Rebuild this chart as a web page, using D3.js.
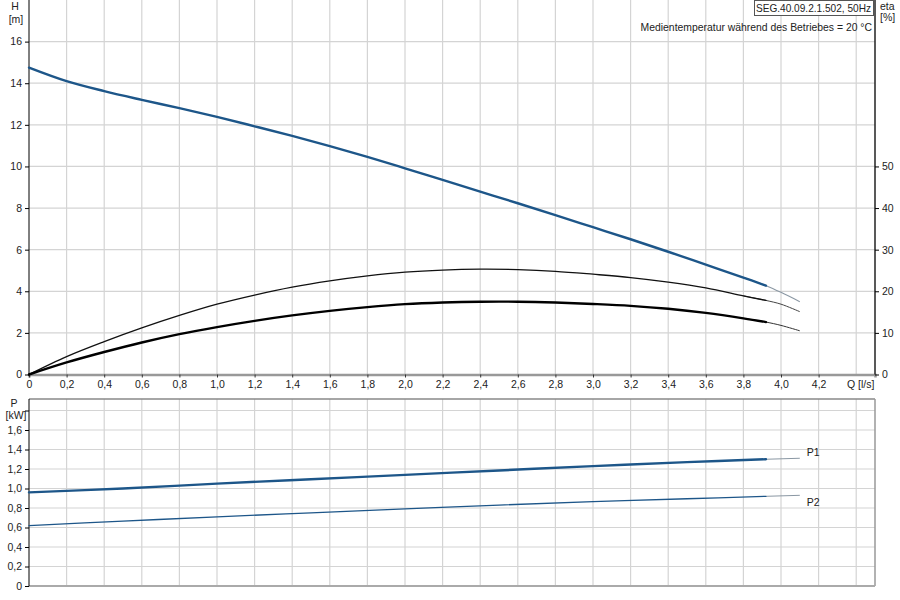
<!DOCTYPE html>
<html>
<head>
<meta charset="utf-8">
<script src="https://cdn.jsdelivr.net/npm/d3@7"></script>
<style>
  body { margin: 0; background: #fff; }
  svg text { font-family: "Liberation Sans", Arial, sans-serif; fill: #222; }
</style>
</head>
<body>
<div id="chart"></div>
<script>
// Pump curve data
const qPts = [0, 0.2, 0.4, 0.6, 0.8, 1.0, 1.2, 1.4, 1.6, 1.8, 2.0, 2.2, 2.4, 2.6, 2.8, 3.0, 3.2, 3.4, 3.6, 3.8, 3.92, 4.0, 4.1];
const headM = [14.75, 14.1, 13.62, 13.2, 12.8, 12.38, 11.93, 11.47, 10.98, 10.46, 9.91, 9.35, 8.79, 8.23, 7.66, 7.08, 6.5, 5.9, 5.28, 4.66, 4.27, 3.95, 3.5];
const etaPump = [0, 4.3, 7.9, 11.2, 14.2, 16.9, 19.1, 21.0, 22.5, 23.7, 24.6, 25.1, 25.3, 25.2, 24.8, 24.1, 23.3, 22.2, 20.8, 18.9, 17.8, 16.9, 15.1];
const etaTotal = [0, 2.9, 5.4, 7.7, 9.7, 11.4, 12.9, 14.2, 15.3, 16.2, 16.9, 17.3, 17.5, 17.5, 17.3, 16.95, 16.5, 15.8, 14.8, 13.5, 12.6, 11.8, 10.5];
const qPower = [0, 0.5, 1.0, 1.5, 2.0, 2.5, 3.0, 3.5, 3.92, 4.1];
const powerP1 = [0.96, 1.0, 1.05, 1.095, 1.14, 1.185, 1.23, 1.27, 1.30, 1.31];
const powerP2 = [0.62, 0.665, 0.71, 0.75, 0.79, 0.83, 0.865, 0.895, 0.92, 0.93];
const qDuty = 3.92; // thick part ends here, thin continuation after

const qTicks = d3.range(0, 4.21, 0.2);
const hTicks = d3.range(0, 16.1, 2);
const etaTicks = [0, 10, 20, 30, 40, 50];
const pTicks = d3.range(0, 1.81, 0.2);

const fmt = v => d3.format(".1f")(v).replace(".", ",");
const W = 900, H = 600;
const svg = d3.select("#chart").append("svg").attr("width", W).attr("height", H);

const x = d3.scaleLinear().domain([0, 4.5]).range([29, 875]);
const yH = d3.scaleLinear().domain([0, 18]).range([374.5, 0]);
const yEta = d3.scaleLinear().domain([0, 90]).range([374.5, 0]);
const yP = d3.scaleLinear().domain([0, 1.8]).range([586, 410.5]);

const gridColor = "#d4d4d4";
const topTop = 0, topBottom = yH(0);
const botTop = 399, botBottom = yP(0);

// grid lines
function grid(y0, y1, yScale, yVals) {
    const g = svg.append("g");
    d3.range(0.2, 4.41, 0.2).forEach(q => {
        g.append("line").attr("x1", x(q)).attr("x2", x(q)).attr("y1", y0).attr("y2", y1)
            .attr("stroke", gridColor).attr("stroke-width", 1.2);
    });
    yVals.forEach(v => {
        g.append("line").attr("x1", x(0)).attr("x2", x(4.5)).attr("y1", yScale(v)).attr("y2", yScale(v))
            .attr("stroke", gridColor).attr("stroke-width", 1.2);
    });
}
grid(topTop, topBottom, yH, d3.range(2, 16.1, 2));
grid(botTop, botBottom, yP, d3.range(0.2, 1.81, 0.2));

// frames of the lower chart
svg.append("line").attr("x1", x(0)).attr("x2", x(4.5)).attr("y1", botTop).attr("y2", botTop).attr("stroke", "#888").attr("stroke-width", 1.5);
svg.append("line").attr("x1", x(4.5)).attr("x2", x(4.5)).attr("y1", botTop).attr("y2", botBottom).attr("stroke", "#999").attr("stroke-width", 1.5);
svg.append("line").attr("x1", x(0)).attr("x2", x(4.5)).attr("y1", botBottom).attr("y2", botBottom).attr("stroke", "#aaa").attr("stroke-width", 2);

// top x axis
const xAxis = svg.append("g").attr("transform", `translate(0,${topBottom})`)
    .call(d3.axisBottom(x).tickValues(qTicks).tickFormat(d => d === 0 ? "0" : fmt(d)).tickSize(3).tickPadding(3));
xAxis.select(".domain").attr("stroke", "#999").attr("stroke-width", 2.5);
xAxis.selectAll(".tick line").attr("stroke", "#333");
xAxis.selectAll("text").attr("font-size", 10.5).attr("fill", "#222");

// left H axis
const hAxis = svg.append("g").attr("transform", `translate(${x(0)},0)`)
    .call(d3.axisLeft(yH).tickValues(hTicks).tickFormat(d3.format("d")).tickSize(4).tickPadding(3));
hAxis.select(".domain").attr("d", `M0,${topTop}V${topBottom}`).attr("stroke", "#000");
hAxis.selectAll("text").attr("font-size", 10.5).attr("fill", "#222");

// right eta axis
const etaAxis = svg.append("g").attr("transform", `translate(${x(4.5)},0)`)
    .call(d3.axisRight(yEta).tickValues(etaTicks).tickSize(4).tickPadding(3));
etaAxis.select(".domain").attr("d", `M0,${topTop}V${topBottom}`).attr("stroke", "#222").attr("stroke-width", 1.5);
etaAxis.selectAll("text").attr("font-size", 10.5).attr("fill", "#222");

// left P axis (1,8 tick has no label, the unit sits there)
const pAxis = svg.append("g").attr("transform", `translate(${x(0)},0)`)
    .call(d3.axisLeft(yP).tickValues(pTicks).tickFormat(d => d === 0 ? "0" : (d > 1.7 ? "" : fmt(d))).tickSize(4).tickPadding(3));
pAxis.select(".domain").attr("d", `M0,${botTop}V${botBottom}`).attr("stroke", "#000");
pAxis.selectAll("text").attr("font-size", 10.5).attr("fill", "#222");

// axis titles
const label = (tx, ty, t, anchor = "start", size = 10.5) => svg.append("text").attr("x", tx).attr("y", ty)
    .attr("font-size", size).attr("text-anchor", anchor).text(t);
label(15, 10, "H", "middle");
label(16, 23, "[m]", "middle");
label(880, 10, "eta");
label(880, 21, "[%]");
label(14, 407, "P", "middle");
label(16, 419, "[kW]", "middle");
label(847, 388, "Q [l/s]");

// header texts
svg.append("rect").attr("x", 754.5).attr("y", 0.5).attr("width", 119).attr("height", 15)
    .attr("fill", "#fff").attr("stroke", "#555");
label(871, 12, "SEG.40.09.2.1.502, 50Hz", "end", 10.1);
label(872, 31, "Medientemperatur während des Betriebes = 20 °C", "end", 10.4);

// curves: thin continuation first, thick operating range on top
function drawCurve(qs, vals, yScale, colorThick, wThick, colorThin, wThin) {
    const pts = qs.map((q, i) => [q, vals[i]]);
    const line = d3.line().x(d => x(d[0])).y(d => yScale(d[1])).curve(d3.curveCatmullRom.alpha(0.5));
    svg.append("path").attr("d", line(pts.filter(d => d[0] >= qDuty - 0.3)))
        .attr("fill", "none").attr("stroke", colorThin).attr("stroke-width", wThin);
    svg.append("path").attr("d", line(pts.filter(d => d[0] <= qDuty + 1e-9)))
        .attr("fill", "none").attr("stroke", colorThick).attr("stroke-width", wThick).attr("stroke-linecap", "round");
}
const blue = "#1d5689";
drawCurve(qPts, headM, yH, blue, 2.4, "#8a97a3", 1.1);
drawCurve(qPts, etaPump, yEta, "#111", 1.3, "#444", 1.0);
drawCurve(qPts, etaTotal, yEta, "#000", 2.4, "#333", 1.0);
drawCurve(qPower, powerP1, yP, blue, 2.4, "#8a97a3", 1.1);
drawCurve(qPower, powerP2, yP, blue, 1.3, "#8a97a3", 1.0);

const pLabel = (t, v, dy) => svg.append("text").attr("x", x(4.1) + 7).attr("y", yP(v) + dy)
    .attr("font-size", 10.5).attr("fill", "#1d4f7a").text(t);
pLabel("P1", powerP1[powerP1.length - 1], -2);
pLabel("P2", powerP2[powerP2.length - 1], 11);
</script>
</body>
</html>
